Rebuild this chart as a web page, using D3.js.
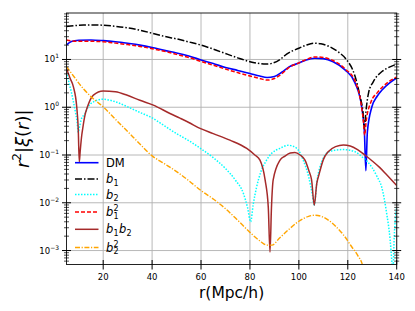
<!DOCTYPE html>
<html><head><meta charset="utf-8">
<script src="https://cdn.jsdelivr.net/npm/d3@7"></script>
<style>body{margin:0;background:#fff}svg{display:block}text{font-family:"DejaVu Sans",sans-serif;fill:#000}</style>
</head><body><svg id="c" width="415" height="311"></svg>
<script>
// ---------- data ----------
const xTicks = [20, 40, 60, 80, 100, 120, 140];
const yMajorExp = [-3, -2, -1, 0, 1];

const dmR = [5, 7, 10, 15, 20, 25, 30, 35, 40, 45, 50, 55, 60, 65, 70, 75, 80, 84, 87, 90, 93, 96, 100, 103, 106.5, 110, 114, 119, 123, 125.7, 126.8, 127.4, 128, 129.8, 132, 134, 137, 140];
const dmV = [20.1, 23.8, 25.2, 25.6, 24.8, 23.5, 21.8, 20, 17.8, 15.5, 13.7, 11.8, 9.8, 8.2, 6.8, 5.9, 5.1, 4.5, 4.2, 4.4, 5.4, 7.0, 8.4, 9.8, 10.6, 10.4, 9.0, 6.0, 3.2, 1.0, 0.3, 0.047, 0.3, 1.0, 1.7, 2.3, 3.2, 4.1];

const b1R = [5, 8, 12, 16, 20, 25, 30, 35, 40, 45, 50, 55, 60, 65, 70, 75, 80, 84, 86.5, 89, 92.3, 95, 100, 103, 106, 109, 112, 116, 119, 123, 125, 126.2, 126.8, 127.4, 128.5, 130.4, 134, 137, 140];
const b1V = [49, 51, 52.5, 53, 52, 49.5, 46, 41, 35.5, 30.5, 27, 23.3, 20, 16.5, 13.3, 10.8, 9.0, 8.2, 8.0, 8.3, 10, 13, 17.2, 20, 21.9, 21.3, 19.1, 14.5, 10.6, 4.4, 1.7, 0.8, 0.35, 0.8, 2.0, 3.4, 5.6, 6.9, 8.0];

const b2R = [5, 6, 7.1, 8.5, 9.3, 9.8, 10.4, 11, 12.6, 14, 16, 20, 25, 30, 35, 40, 45, 50, 55, 60, 65, 70, 74, 77.3, 79, 80.3, 81.3, 82.7, 84.5, 86.8, 89, 92.3, 95.7, 99, 101.7, 104, 105.5, 106.3, 107.4, 109.5, 112, 114.8, 118.2, 123, 126, 129.8, 132, 133.9, 135.9, 137.3, 138, 138.4, 139, 140];
const b2V = [5.5, 3.3, 1.95, 0.87, 0.5, 0.3, 0.4, 0.55, 0.74, 1.05, 1.3, 1.47, 1.3, 1.02, 0.78, 0.6, 0.41, 0.28, 0.2, 0.135, 0.088, 0.052, 0.03, 0.0158, 0.008, 0.004, 0.009, 0.021, 0.045, 0.078, 0.11, 0.138, 0.16, 0.14, 0.08, 0.035, 0.015, 0.009, 0.028, 0.075, 0.115, 0.126, 0.13, 0.117, 0.09, 0.056, 0.035, 0.021, 0.006, 0.0017, 0.0006, 0.0003, 0.002, 0.008];

const b1sqR = [5, 7, 10, 15, 20, 25, 30, 35, 40, 45, 50, 55, 60, 65, 70, 75, 80, 84, 87, 90, 93, 96, 100, 103, 106.5, 110, 114, 119, 123, 125.3, 126.4, 126.9, 127.5, 129.5, 132, 134, 137, 140];
const b1sqV = [25.6, 24.5, 24, 24, 23.5, 22, 20.5, 18.8, 16.8, 14.8, 12.8, 11, 9.1, 7.6, 6.3, 5.3, 4.5, 4.0, 3.7, 4.0, 5.0, 6.8, 8.5, 10.0, 11.3, 11.0, 9.5, 6.3, 3.5, 1.3, 0.5, 0.26, 0.5, 1.3, 2.0, 2.6, 3.5, 4.3];

const b1b2R = [5, 6.5, 7.8, 9.2, 9.8, 10.23, 10.6, 11.2, 11.6, 12.6, 13.5, 16, 20, 25, 29.6, 35, 40.5, 47.3, 51.4, 55, 59.6, 65, 71.8, 78.7, 82, 84.1, 86.2, 87.5, 88.2, 88.8, 89.5, 92.3, 94.3, 96.5, 98.4, 100.5, 102.5, 104.2, 105.2, 106.3, 107.3, 108.3, 110, 112, 115, 118.2, 121, 124, 127, 130, 133, 136, 140];
const b1b2V = [6.5, 4.0, 2.7, 1.0, 0.35, 0.072, 0.12, 0.25, 0.35, 0.7, 1.0, 1.8, 2.19, 2.1, 1.8, 1.4, 1.11, 0.74, 0.59, 0.48, 0.36, 0.28, 0.205, 0.137, 0.1, 0.078, 0.03, 0.008, 0.00093, 0.008, 0.03, 0.078, 0.095, 0.11, 0.113, 0.1, 0.078, 0.045, 0.03, 0.0089, 0.025, 0.04, 0.08, 0.117, 0.15, 0.162, 0.155, 0.13, 0.1, 0.075, 0.055, 0.038, 0.023];

const b2sqR = [5, 8, 12, 16, 20, 25, 30, 35, 40, 45, 50, 55, 60, 65, 70, 75, 80, 84, 87, 89, 92, 96, 100, 104, 106.6, 110, 114.8, 118, 121.6, 124, 126, 127, 127.5];
const b2sqV = [7.1, 4.4, 2.4, 1.5, 1.02, 0.56, 0.31, 0.17, 0.096, 0.066, 0.045, 0.029, 0.018, 0.012, 0.0075, 0.0043, 0.0024, 0.0016, 0.0013, 0.0013, 0.0018, 0.0028, 0.0041, 0.0052, 0.0055, 0.005, 0.0033, 0.0022, 0.0012, 0.0008, 0.0005, 0.0003, 0.0001];

// ---------- chart ----------
const svg = d3.select("#c");
const X0 = 66.5, X1 = 396.7, Y0 = 13, Y1 = 264.5;
const x = d3.scaleLinear().domain([5, 140]).range([X0, X1]);
const y = d3.scaleLog().domain([5.1e-4, 94]).range([Y1, Y0]);

svg.append("defs").append("clipPath").attr("id", "clip")
  .append("rect").attr("x", X0).attr("y", Y0).attr("width", X1 - X0).attr("height", Y1 - Y0);

// grid
const grid = svg.append("g").attr("stroke", "#b0b0b0").attr("stroke-width", 0.9);
xTicks.forEach(t => grid.append("line").attr("x1", x(t)).attr("x2", x(t)).attr("y1", Y0).attr("y2", Y1));
yMajorExp.forEach(e => grid.append("line").attr("x1", X0).attr("x2", X1).attr("y1", y(Math.pow(10, e))).attr("y2", y(Math.pow(10, e))));

// lines
const line = d3.line().x(d => x(d[0])).y(d => y(d[1])).curve(d3.curveMonotoneX);
const zipS = (r, v) => r.map((d, i) => [d, v[i]]);
const series = [
  {name: "DM", data: zipS(dmR, dmV), color: "#0000ff", dash: null, w: 1.6},
  {name: "b1", data: zipS(b1R, b1V), color: "#000000", dash: "7,2,1.5,2", w: 1.5},
  {name: "b2", data: zipS(b2R, b2V), color: "#00ffff", dash: "1.5,1.5", w: 1.5},
  {name: "b1^2", data: zipS(b1sqR, b1sqV), color: "#ff0000", dash: "4,2", w: 1.5},
  {name: "b1b2", data: zipS(b1b2R, b1b2V), color: "#a52a2a", dash: null, w: 1.5},
  {name: "b2^2", data: zipS(b2sqR, b2sqV), color: "#ffa500", dash: "5,1.6,1.2,1.6", w: 1.4}
];
const gl = svg.append("g").attr("clip-path", "url(#clip)");
series.forEach(s => {
  gl.append("path").attr("d", line(s.data)).attr("fill", "none")
    .attr("stroke", s.color).attr("stroke-width", s.w)
    .attr("stroke-dasharray", s.dash);
});

// frame
svg.append("rect").attr("x", X0).attr("y", Y0).attr("width", X1 - X0).attr("height", Y1 - Y0)
  .attr("fill", "none").attr("stroke", "#222").attr("stroke-width", 1);

// ticks
const tk = svg.append("g").attr("stroke", "#000").attr("stroke-width", 1);
xTicks.forEach(t => tk.append("line").attr("x1", x(t)).attr("x2", x(t)).attr("y1", Y1 - 4.5).attr("y2", Y1 + 5));
[X0, X1].forEach(ax => {
  yMajorExp.forEach(e => {
    const yy = y(Math.pow(10, e));
    tk.append("line").attr("x1", ax - 4.5).attr("x2", ax + 4.5).attr("y1", yy).attr("y2", yy);
  });
  for (let e = -4; e <= 1; e++) for (let m = 2; m <= 9; m++) {
    const v = m * Math.pow(10, e);
    if (v < 5.1e-4 || v > 94) continue;
    const yy = y(v);
    tk.append("line").attr("x1", ax - 2.5).attr("x2", ax + 2.5).attr("y1", yy).attr("y2", yy).attr("stroke-width", 0.7);
  }
});

// tick labels
const tl = svg.append("g").attr("font-size", 8.5);
xTicks.forEach(t => tl.append("text").attr("x", x(t)).attr("y", 280).attr("text-anchor", "middle").text(t));
yMajorExp.forEach(e => {
  const yy = y(Math.pow(10, e));
  const lab = e < 0 ? "\u2212" + (-e) : String(e);
  const t = tl.append("text").attr("x", 59).attr("y", yy + 3).attr("text-anchor", "end");
  t.append("tspan").text("10");
  t.append("tspan").attr("font-size", 6).attr("dy", -4).text(lab);
});

// axis labels
svg.append("text").attr("x", (X0 + X1) / 2).attr("y", 297.5).attr("text-anchor", "middle")
  .attr("font-size", 15.5).text("r(Mpc/h)");
const yl = svg.append("text").attr("transform", `translate(29,${(Y0 + Y1) / 2}) rotate(-90)`)
  .attr("text-anchor", "middle").attr("font-size", 18);
yl.append("tspan").attr("font-style", "italic").text("r");
yl.append("tspan").attr("font-size", 12).attr("dy", -8).text("2");
yl.append("tspan").attr("dy", 8).text("|");
yl.append("tspan").attr("font-style", "italic").text("ξ");
yl.append("tspan").text("(");
yl.append("tspan").attr("font-style", "italic").text("r");
yl.append("tspan").text(")|");

// legend
const legY = [162.7, 179, 194.5, 212, 229.3, 247.5];
const lg = svg.append("g");
series.forEach((s, i) => {
  const yy = legY[i];
  lg.append("line").attr("x1", 75).attr("x2", 98.5).attr("y1", yy).attr("y2", yy)
    .attr("stroke", s.color).attr("stroke-width", s.w).attr("stroke-dasharray", s.dash);
});
function mathLabel(xx, yy, parts) {
  let cx = xx;
  parts.forEach(p => {
    if (p.plain) {
      const t = lg.append("text").attr("x", cx).attr("y", yy).attr("font-size", 11.5).text(p.plain);
      cx += t.node().getComputedTextLength();
      return;
    }
    const t = lg.append("text").attr("x", cx).attr("y", yy).attr("font-size", 11.5).attr("font-style", "italic").text(p.b);
    cx += t.node().getComputedTextLength() + 0.3;
    let w = 0;
    if (p.sub) {
      const s = lg.append("text").attr("x", cx).attr("y", yy + 2.8).attr("font-size", 8).text(p.sub);
      w = Math.max(w, s.node().getComputedTextLength());
    }
    if (p.sup) {
      const s = lg.append("text").attr("x", cx).attr("y", yy - 5).attr("font-size", 8).text(p.sup);
      w = Math.max(w, s.node().getComputedTextLength());
    }
    cx += w + 0.3;
  });
}
const lx = 106, lo = 4;
mathLabel(lx, legY[0] + lo, [{plain: "DM"}]);
mathLabel(lx, legY[1] + lo, [{b: "b", sub: "1"}]);
mathLabel(lx, legY[2] + lo, [{b: "b", sub: "2"}]);
mathLabel(lx, legY[3] + lo, [{b: "b", sub: "1", sup: "2"}]);
mathLabel(lx, legY[4] + lo, [{b: "b", sub: "1"}, {b: "b", sub: "2"}]);
mathLabel(lx, legY[5] + lo, [{b: "b", sub: "2", sup: "2"}]);
</script></body></html>
